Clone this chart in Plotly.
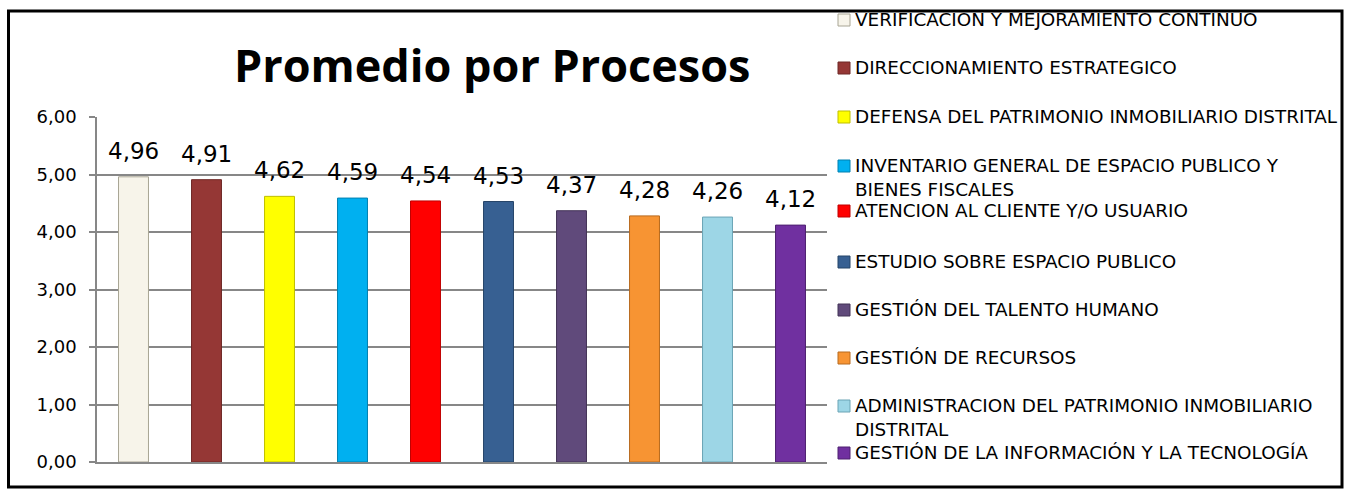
import plotly.graph_objects as go

# ---- data ----
categories = [
    "VERIFICACION Y MEJORAMIENTO CONTINUO",
    "DIRECCIONAMIENTO ESTRATEGICO",
    "DEFENSA DEL PATRIMONIO INMOBILIARIO DISTRITAL",
    "INVENTARIO GENERAL DE ESPACIO PUBLICO Y BIENES FISCALES",
    "ATENCION AL CLIENTE Y/O USUARIO",
    "ESTUDIO SOBRE ESPACIO PUBLICO",
    "GESTIÓN DEL TALENTO HUMANO",
    "GESTIÓN DE RECURSOS",
    "ADMINISTRACION DEL PATRIMONIO INMOBILIARIO DISTRITAL",
    "GESTIÓN DE LA INFORMACIÓN Y LA TECNOLOGÍA",
]
legend_text = [
    "VERIFICACION Y MEJORAMIENTO CONTINUO",
    "DIRECCIONAMIENTO ESTRATEGICO",
    "DEFENSA DEL PATRIMONIO INMOBILIARIO DISTRITAL",
    "INVENTARIO GENERAL DE ESPACIO PUBLICO Y<br>BIENES FISCALES",
    "ATENCION AL CLIENTE Y/O USUARIO",
    "ESTUDIO SOBRE ESPACIO PUBLICO",
    "GESTIÓN DEL TALENTO HUMANO",
    "GESTIÓN DE RECURSOS",
    "ADMINISTRACION DEL PATRIMONIO INMOBILIARIO<br>DISTRITAL",
    "GESTIÓN DE LA INFORMACIÓN Y LA TECNOLOGÍA",
]
values = [4.96, 4.91, 4.62, 4.59, 4.54, 4.53, 4.37, 4.28, 4.26, 4.12]
title_text = "Promedio por Procesos"

# ---- styles ----
colors = ["#F7F4EA", "#953735", "#FFFF00", "#00B0F0", "#FF0000",
          "#376092", "#604A7B", "#F79433", "#9DD6E6", "#7030A0"]
edges = ["#A8A594", "#6E2826", "#BFBF00", "#0080B0", "#C00000",
         "#254468", "#433356", "#B86A1E", "#6AA4B5", "#4E2070"]

W, H = 1349, 489
L, R, T, B = 97, 522, 117, 27
PW, PH = W - L - R, H - T - B
GRID = "#878787"
FONT = "DejaVu Sans"


def px_x(px):
    return (px - L) / PW


def px_y(py):
    return (H - B - py) / PH


fig = go.Figure()
for cat, val, col, edge in zip(categories, values, colors, edges):
    fig.add_trace(go.Bar(
        x=[cat], y=[val], name=cat, showlegend=False,
        marker=dict(color=col, line=dict(color=edge, width=1)),
    ))

annotations = []
for cat, val in zip(categories, values):
    annotations.append(dict(
        x=cat, y=val, xref="x", yref="y",
        text=f"{val:.2f}".replace(".", ","),
        showarrow=False, yanchor="bottom", yshift=11,
        font=dict(family=FONT, size=23, color="black"),
    ))

# title
annotations.append(dict(
    x=px_x(492), y=px_y(65), xref="paper", yref="paper",
    text=f"<b>{title_text}</b>", showarrow=False,
    xanchor="center", yanchor="middle",
    font=dict(family="Open Sans", size=45, color="black"),
))

# manual legend
legend_rows = [20, 68, 117, 166, 211, 262, 310, 358, 406, 453]
LEG_FONT = 18.4
line_h = LEG_FONT * 1.3
shapes = []
for txt, col, edge, yc in zip(legend_text, colors, edges, legend_rows):
    annotations.append(dict(
        x=px_x(854), y=px_y(yc - line_h / 2), xref="paper", yref="paper",
        text=txt, showarrow=False, xanchor="left", yanchor="top",
        align="left", borderpad=0,
        font=dict(family=FONT, size=LEG_FONT, color="black"),
    ))
    shapes.append(dict(
        type="rect", xref="paper", yref="paper",
        x0=px_x(838), x1=px_x(850), y0=px_y(yc + 6), y1=px_y(yc - 6),
        fillcolor=col, line=dict(color=edge, width=1),
    ))

# chart border
shapes.append(dict(
    type="rect", xref="paper", yref="paper",
    x0=px_x(8.5), x1=px_x(1342), y0=px_y(487), y1=px_y(11),
    line=dict(color="black", width=3), fillcolor="rgba(0,0,0,0)",
    layer="above",
))

fig.update_layout(
    width=W, height=H, autosize=False,
    margin=dict(l=L, r=R, t=T, b=B, pad=0),
    paper_bgcolor="white", plot_bgcolor="white",
    barmode="overlay", bargap=0.59,
    separators=",.",
    showlegend=False,
    annotations=annotations,
    shapes=shapes,
    xaxis=dict(
        type="category", categoryorder="array", categoryarray=categories,
        range=[-0.5, len(categories) - 0.5],
        showticklabels=False, showgrid=False, ticks="",
        showline=True, linecolor=GRID, linewidth=1.5, zeroline=False,
    ),
    yaxis=dict(
        range=[0, 6], tick0=0, dtick=1, tickformat=".2f",
        showgrid=True, gridcolor=GRID, gridwidth=1.5,
        showline=True, linecolor=GRID, linewidth=1.5,
        ticks="outside", ticklen=6, tickcolor=GRID, tickwidth=1.5,
        zeroline=False, ticklabelstandoff=9,
        tickfont=dict(family=FONT, size=18, color="black"),
    ),
)

fig.write_html(
    "out.html",
    config={"displayModeBar": False},
    post_script="document.body.style.margin='0px';document.body.style.overflow='hidden';",
)
